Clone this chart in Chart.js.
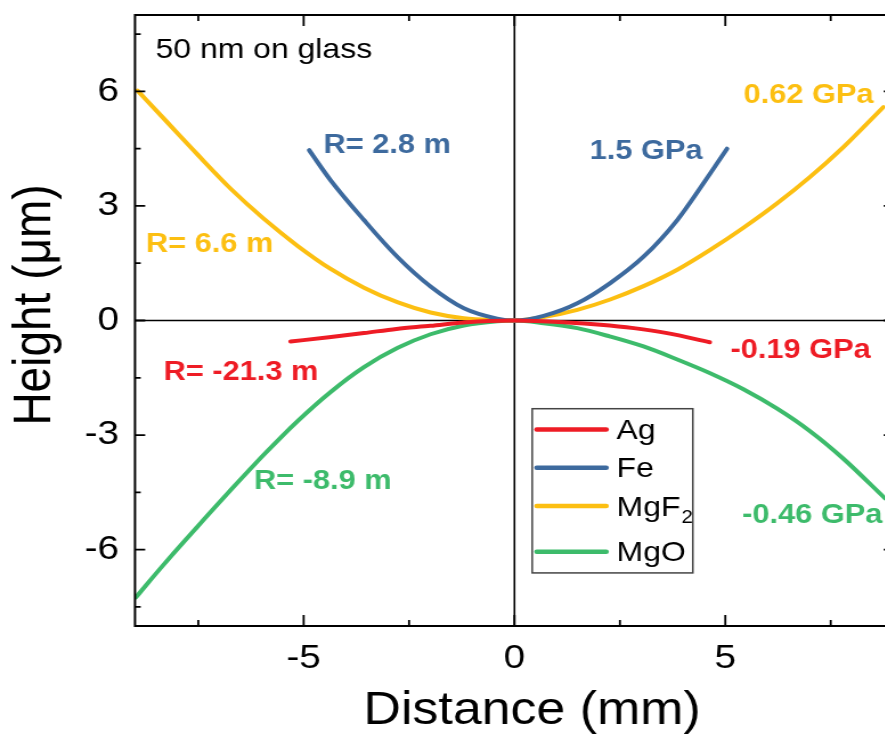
<!DOCTYPE html>
<html><head><meta charset="utf-8">
<script src="https://cdn.jsdelivr.net/npm/chart.js@4.4.1/dist/chart.umd.min.js"></script>
<style>
html,body{margin:0;padding:0;overflow:hidden;background:#fff;width:885px;height:736px;}
#wrap{position:absolute;left:0;top:0;width:790px;height:736px;transform:scaleX(1.14);transform-origin:0 0;}
canvas{display:block;}
</style></head><body>
<div id="wrap"><canvas id="c" width="790" height="736"></canvas></div>
<script>
// ---- data ----
const seriesNames = ['Ag', 'Fe', 'MgF2', 'MgO'];
const agX   = [-5.31, -4.40, -3.57, -2.80, -1.99, -1.20, 0, 1.25, 2.04, 2.83, 3.62, 4.63];
const agY   = [-0.55, -0.44, -0.33, -0.22, -0.14, -0.05, 0, -0.05, -0.11, -0.20, -0.33, -0.57];
const feX   = [-4.87, -4.36, -3.57, -2.78, -1.99, -1.20, -0.41, 0, 0.69, 1.49, 2.27, 3.06, 3.86, 4.64, 5.04];
const feY   = [4.46, 3.67, 2.63, 1.67, 0.89, 0.32, 0.05, 0, 0.12, 0.45, 0.98, 1.67, 2.63, 3.85, 4.50];
const mgf2X = [-8.94, -8.31, -7.52, -6.73, -5.94, -5.15, -4.36, -3.57, -2.78, -1.99, -1.20, -0.40, 0, 0.69, 1.49, 2.27, 3.06, 3.86, 4.64, 5.43, 6.23, 7.01, 7.80, 8.75];
const mgf2Y = [6.02, 5.28, 4.35, 3.45, 2.66, 1.96, 1.35, 0.86, 0.48, 0.21, 0.06, 0.01, 0, 0.09, 0.28, 0.55, 0.90, 1.33, 1.85, 2.43, 3.07, 3.76, 4.54, 5.59];
const mgoX  = [-8.98, -8.31, -7.52, -6.73, -5.94, -5.15, -4.36, -3.57, -2.78, -1.99, -1.20, -0.41, 0, 0.69, 1.49, 2.27, 3.06, 3.86, 4.64, 5.43, 6.23, 7.01, 7.80, 8.79];
const mgoY  = [-7.25, -6.38, -5.40, -4.44, -3.51, -2.64, -1.87, -1.22, -0.72, -0.36, -0.13, -0.02, 0, -0.07, -0.20, -0.42, -0.68, -1.02, -1.38, -1.80, -2.31, -2.90, -3.62, -4.66];
const xTicks = [-5, 0, 5];
const xMinorTicks = [-7.5, -2.5, 2.5, 7.5];
const yTicks = [-6, -3, 0, 3, 6];
const yMinorTicks = [-7.5, -4.5, -1.5, 1.5, 4.5, 7.5];
const annTexts = ['R= 2.8 m', '1.5 GPa', 'R= 6.6 m', '0.62 GPa', 'R= -21.3 m', '-0.19 GPa', 'R= -8.9 m', '-0.46 GPa'];
const annSeries = [1, 1, 2, 2, 0, 0, 3, 3];
const noteText = '50 nm on glass';
const xTitle = 'Distance (mm)';
const yTitle = 'Height (\u03bcm)';

// ---- styles ----
const colors = ['#ee1c25', '#3d6a9e', '#fcbf12', '#3dbb6b'];
const FONT = "'Liberation Sans', Arial, sans-serif";
const annPos = [[-4.53, 4.59], [1.78, 4.42], [-8.74, 2.0], [5.43, 5.88], [-8.32, -1.37], [5.12, -0.78], [-6.18, -4.21], [5.40, -5.1]];
const notePos = [-8.51, 7.07];
const legendBox = {x0: 0.42, x1: 4.23, y0: -2.31, y1: -6.61};

function pts(xs, ys) { return xs.map((x, i) => ({x: x, y: ys[i]})); }
const allX = [agX, feX, mgf2X, mgoX];
const allY = [agY, feY, mgf2Y, mgoY];
const datasets = seriesNames.map((n, i) => ({
  label: n, data: pts(allX[i], allY[i]), borderColor: colors[i], backgroundColor: colors[i],
  borderWidth: 4, pointRadius: 0, cubicInterpolationMode: 'monotone', fill: false, borderCapStyle: 'round'
}));

function drawLabelWithSub(ctx, text, x, y, size) {
  const m = text.match(/^(.*?)(\d+)$/);
  if (!m) { ctx.fillText(text, x, y); return; }
  ctx.fillText(m[1], x, y);
  const w = ctx.measureText(m[1]).width;
  const f = ctx.font;
  ctx.font = Math.round(size * 0.65) + 'px ' + FONT;
  ctx.fillText(m[2], x + w + 1, y + size * 0.35);
  ctx.font = f;
}

const deco = {
  id: 'deco',
  beforeDatasetsDraw(chart) {
    const {ctx, chartArea: a, scales: {x, y}} = chart;
    ctx.save();
    ctx.strokeStyle = '#000';
    ctx.lineWidth = 1.6;
    const x0 = x.getPixelForValue(0), y0 = y.getPixelForValue(0);
    ctx.beginPath();
    ctx.moveTo(x0, a.top); ctx.lineTo(x0, a.bottom);
    ctx.moveTo(a.left, y0); ctx.lineTo(a.right, y0);
    ctx.stroke();
    ctx.restore();
  },
  afterDatasetsDraw(chart) {
    const {ctx, chartArea: a, scales: {x, y}} = chart;
    ctx.save();
    ctx.strokeStyle = '#000';
    ctx.lineWidth = 2;
    ctx.strokeRect(a.left, a.top, a.right - a.left, a.bottom - a.top);
    ctx.lineWidth = 1.8;
    ctx.beginPath();
    const tick = (vals, len) => {
      vals.forEach(v => {
        const px = x.getPixelForValue(v);
        ctx.moveTo(px, a.bottom); ctx.lineTo(px, a.bottom - len);
        ctx.moveTo(px, a.top); ctx.lineTo(px, a.top + len);
      });
    };
    const ytick = (vals, len) => {
      vals.forEach(v => {
        const py = y.getPixelForValue(v);
        ctx.moveTo(a.left, py); ctx.lineTo(a.left + len, py);
        ctx.moveTo(a.right, py); ctx.lineTo(a.right - len, py);
      });
    };
    tick(xTicks, 11); tick(xMinorTicks, 6);
    ytick(yTicks, 9); ytick(yMinorTicks, 5);
    ctx.stroke();

    // annotations
    ctx.textBaseline = 'middle';
    ctx.textAlign = 'left';
    ctx.font = 'bold 27px ' + FONT;
    annTexts.forEach((t, i) => {
      ctx.fillStyle = colors[annSeries[i]];
      ctx.fillText(t, x.getPixelForValue(annPos[i][0]), y.getPixelForValue(annPos[i][1]));
    });
    ctx.font = '28px ' + FONT;
    ctx.fillStyle = '#000';
    ctx.fillText(noteText, x.getPixelForValue(notePos[0]), y.getPixelForValue(notePos[1]));

    // legend
    const L = x.getPixelForValue(legendBox.x0), R = x.getPixelForValue(legendBox.x1);
    const T = y.getPixelForValue(legendBox.y0), B = y.getPixelForValue(legendBox.y1);
    ctx.fillStyle = '#fff';
    ctx.fillRect(L, T, R - L, B - T);
    ctx.strokeStyle = '#444';
    ctx.lineWidth = 1.5;
    ctx.strokeRect(L, T, R - L, B - T);
    const rows = [20.7, 59, 97.4, 143];
    ctx.font = '28px ' + FONT;
    seriesNames.forEach((n, i) => {
      const ry = T + rows[i];
      ctx.strokeStyle = colors[i];
      ctx.lineWidth = 4.5;
      ctx.lineCap = 'round';
      ctx.beginPath();
      ctx.moveTo(L + 4, ry); ctx.lineTo(L + 65, ry);
      ctx.stroke();
      ctx.fillStyle = '#000';
      drawLabelWithSub(ctx, n, L + 74, ry + 2, 28);
    });

    // axis titles
    ctx.fillStyle = '#000';
    ctx.textAlign = 'center';
    ctx.textBaseline = 'middle';
    ctx.font = '45.5px ' + FONT;
    ctx.fillText(xTitle, 466.7, 711);
    ctx.save();
    ctx.translate(31, 305);
    ctx.rotate(-Math.PI / 2);
    ctx.font = '46px ' + FONT;
    ctx.fillText(yTitle, 0, 0);
    ctx.restore();
    ctx.restore();
  }
};

new Chart(document.getElementById('c').getContext('2d'), {
  type: 'line',
  data: {datasets: datasets},
  options: {
    responsive: false, animation: false, devicePixelRatio: 1,
    layout: {padding: {top: 15, right: 5.8, bottom: 0, left: 0}},
    plugins: {legend: {display: false}, tooltip: {enabled: false}},
    scales: {
      x: {
        type: 'linear', min: -9, max: 9,
        grid: {display: false, drawTicks: false}, border: {display: false},
        ticks: {font: {family: FONT, size: 34}, color: '#000', padding: 12, maxRotation: 0},
        afterBuildTicks: s => { s.ticks = xTicks.map(v => ({value: v})); },
        afterFit: s => { s.height = 110; s.paddingLeft = 0; s.paddingRight = 0; }
      },
      y: {
        type: 'linear', min: -8, max: 8,
        grid: {display: false, drawTicks: false}, border: {display: false},
        ticks: {font: {family: FONT, size: 34}, color: '#000', padding: 14},
        afterBuildTicks: s => { s.ticks = yTicks.map(v => ({value: v})); },
        afterFit: s => { s.width = 118.4; s.paddingTop = 0; s.paddingBottom = 0; }
      }
    }
  },
  plugins: [deco]
});
</script>
</body></html>
